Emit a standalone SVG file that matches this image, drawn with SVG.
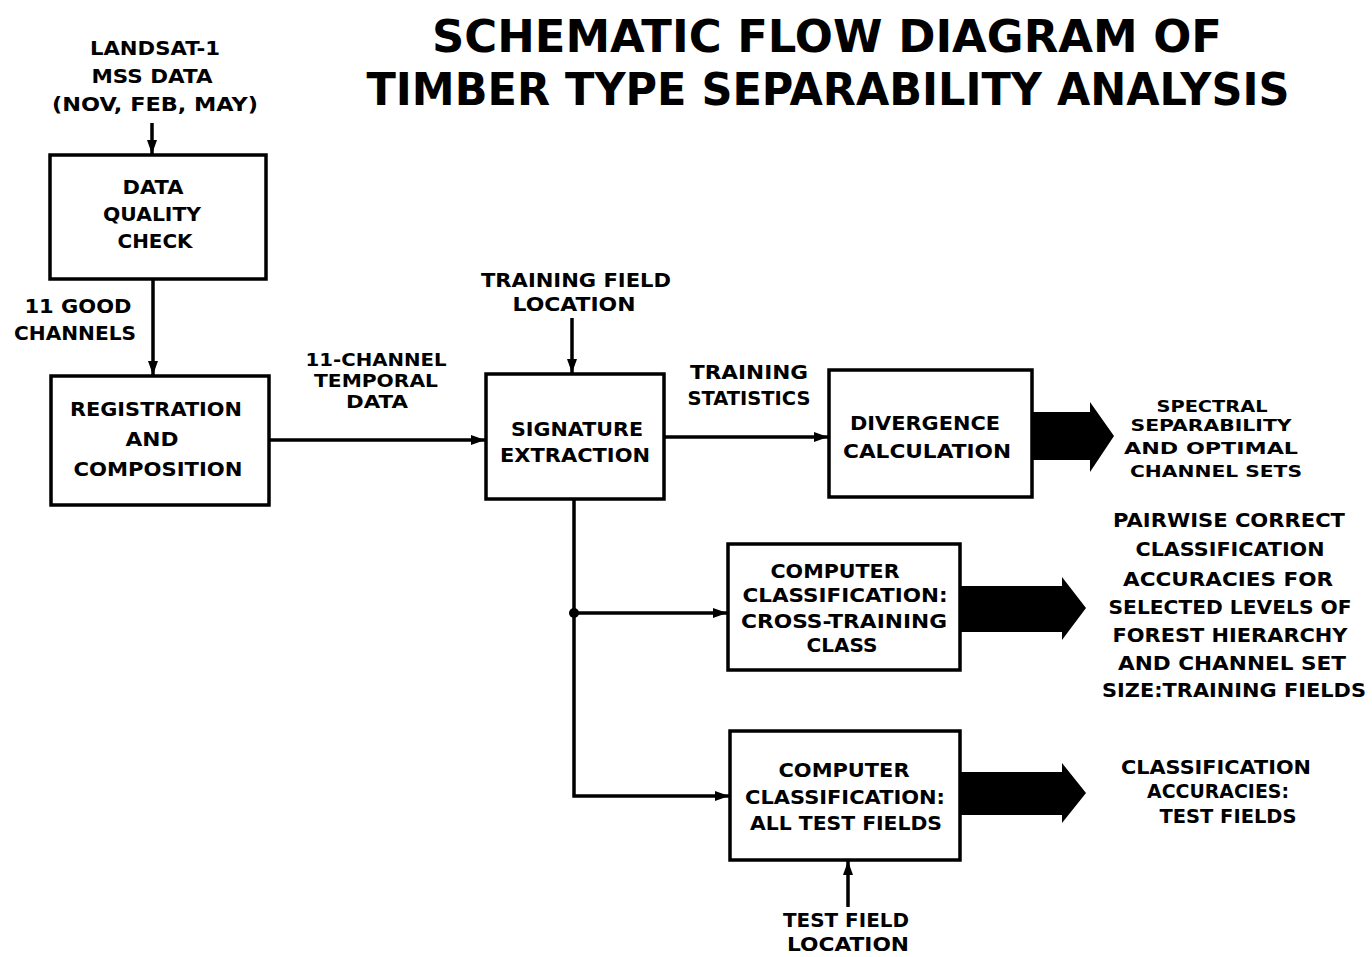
<svg xmlns="http://www.w3.org/2000/svg" width="1372" height="957" viewBox="0 0 1372 957">
<style>
.box{fill:#fff;stroke:#000;stroke-width:3.5}
.ln{fill:none;stroke:#000;stroke-width:3.5}
.blk{fill:#000;stroke:none}
text{font-family:"DejaVu Sans","Liberation Sans",sans-serif;font-weight:bold;font-size:20px;text-anchor:middle;fill:#000}
.t{font-size:44px}
.s{font-size:17px}
.xs{font-size:16px}
</style>
<defs>
<marker id="ah" viewBox="0 0 14 10" refX="14" refY="5" markerWidth="14" markerHeight="10" markerUnits="userSpaceOnUse" orient="auto">
<path d="M0,0 L14,5 L0,10 z" fill="#000"/>
</marker>
</defs>
<rect width="1372" height="957" fill="#fff"/>
<g id="title">
<text class="t" x="827" y="52" textLength="790" lengthAdjust="spacingAndGlyphs">SCHEMATIC FLOW DIAGRAM OF</text>
<text class="t" x="828" y="105" textLength="923" lengthAdjust="spacingAndGlyphs">TIMBER TYPE SEPARABILITY ANALYSIS</text>
</g>
<g id="connectors">
<line class="ln" x1="152" y1="123" x2="152" y2="154" marker-end="url(#ah)"/>
<line class="ln" x1="153" y1="279" x2="153" y2="375" marker-end="url(#ah)"/>
<line class="ln" x1="269" y1="440" x2="485" y2="440" marker-end="url(#ah)"/>
<line class="ln" x1="572" y1="318" x2="572" y2="373" marker-end="url(#ah)"/>
<line class="ln" x1="664" y1="437" x2="828" y2="437" marker-end="url(#ah)"/>
<polyline class="ln" points="574,499 574,796 729,796" marker-end="url(#ah)"/>
<line class="ln" x1="574" y1="613" x2="727" y2="613" marker-end="url(#ah)"/>
<circle cx="574" cy="613" r="5" fill="#000"/>
<line class="ln" x1="848" y1="907" x2="848" y2="861" marker-end="url(#ah)"/>
<polygon class="blk" points="1032,412 1090,412 1090,402 1114,436 1090,472 1090,460 1032,460"/>
<polygon class="blk" points="960,586 1062,586 1062,577 1086,608 1062,640 1062,632 960,632"/>
<polygon class="blk" points="960,772 1062,772 1062,763 1086,793 1062,823 1062,815 960,815"/>
</g>
<g id="input-landsat">
<text x="155" y="55" textLength="130" lengthAdjust="spacingAndGlyphs">LANDSAT-1</text>
<text x="152" y="83" textLength="121" lengthAdjust="spacingAndGlyphs">MSS DATA</text>
<text x="155" y="111" textLength="206" lengthAdjust="spacingAndGlyphs">(NOV, FEB, MAY)</text>
</g>
<g id="data-quality-check">
<rect class="box" x="50" y="155" width="216" height="124"/>
<text x="153" y="194" textLength="61" lengthAdjust="spacingAndGlyphs">DATA</text>
<text x="152" y="221" textLength="98" lengthAdjust="spacingAndGlyphs">QUALITY</text>
<text x="155" y="248" textLength="75" lengthAdjust="spacingAndGlyphs">CHECK</text>
</g>
<g id="label-good-channels">
<text x="78" y="313" textLength="107" lengthAdjust="spacingAndGlyphs">11 GOOD</text>
<text x="75" y="340" textLength="122" lengthAdjust="spacingAndGlyphs">CHANNELS</text>
</g>
<g id="registration-composition">
<rect class="box" x="51" y="376" width="218" height="129"/>
<text x="156" y="416" textLength="172" lengthAdjust="spacingAndGlyphs">REGISTRATION</text>
<text x="152" y="446" textLength="53" lengthAdjust="spacingAndGlyphs">AND</text>
<text x="158" y="476" textLength="169" lengthAdjust="spacingAndGlyphs">COMPOSITION</text>
</g>
<g id="label-temporal">
<text class="s" x="376" y="366" textLength="141" lengthAdjust="spacingAndGlyphs">11-CHANNEL</text>
<text class="s" x="376" y="387" textLength="124" lengthAdjust="spacingAndGlyphs">TEMPORAL</text>
<text class="s" x="377" y="408" textLength="62" lengthAdjust="spacingAndGlyphs">DATA</text>
</g>
<g id="input-training-field">
<text x="576" y="287" textLength="190" lengthAdjust="spacingAndGlyphs">TRAINING FIELD</text>
<text x="574" y="311" textLength="123" lengthAdjust="spacingAndGlyphs">LOCATION</text>
</g>
<g id="signature-extraction">
<rect class="box" x="486" y="374" width="178" height="125"/>
<text x="577" y="436" textLength="132" lengthAdjust="spacingAndGlyphs">SIGNATURE</text>
<text x="575" y="462" textLength="150" lengthAdjust="spacingAndGlyphs">EXTRACTION</text>
</g>
<g id="label-training-statistics">
<text x="749" y="379" textLength="118" lengthAdjust="spacingAndGlyphs">TRAINING</text>
<text x="749" y="405" textLength="123" lengthAdjust="spacingAndGlyphs">STATISTICS</text>
</g>
<g id="divergence-calculation">
<rect class="box" x="829" y="370" width="203" height="127"/>
<text x="925" y="430" textLength="150" lengthAdjust="spacingAndGlyphs">DIVERGENCE</text>
<text x="927" y="458" textLength="168" lengthAdjust="spacingAndGlyphs">CALCULATION</text>
</g>
<g id="output-spectral">
<text class="xs" x="1212" y="412" textLength="111" lengthAdjust="spacingAndGlyphs">SPECTRAL</text>
<text class="xs" x="1211" y="431" textLength="161" lengthAdjust="spacingAndGlyphs">SEPARABILITY</text>
<text class="xs" x="1211" y="454" textLength="174" lengthAdjust="spacingAndGlyphs">AND OPTIMAL</text>
<text class="xs" x="1216" y="477" textLength="172" lengthAdjust="spacingAndGlyphs">CHANNEL SETS</text>
</g>
<g id="classification-cross-training">
<rect class="box" x="728" y="544" width="232" height="126"/>
<text x="835" y="578" textLength="129" lengthAdjust="spacingAndGlyphs">COMPUTER</text>
<text x="845" y="602" textLength="205" lengthAdjust="spacingAndGlyphs">CLASSIFICATION:</text>
<text x="844" y="628" textLength="206" lengthAdjust="spacingAndGlyphs">CROSS-TRAINING</text>
<text x="842" y="652" textLength="71" lengthAdjust="spacingAndGlyphs">CLASS</text>
</g>
<g id="output-pairwise">
<text x="1229" y="527" textLength="232" lengthAdjust="spacingAndGlyphs">PAIRWISE CORRECT</text>
<text x="1230" y="556" textLength="189" lengthAdjust="spacingAndGlyphs">CLASSIFICATION</text>
<text x="1228" y="586" textLength="210" lengthAdjust="spacingAndGlyphs">ACCURACIES FOR</text>
<text x="1230" y="614" textLength="243" lengthAdjust="spacingAndGlyphs">SELECTED LEVELS OF</text>
<text x="1230" y="642" textLength="235" lengthAdjust="spacingAndGlyphs">FOREST HIERARCHY</text>
<text x="1232" y="670" textLength="228" lengthAdjust="spacingAndGlyphs">AND CHANNEL SET</text>
<text x="1234" y="697" textLength="264" lengthAdjust="spacingAndGlyphs">SIZE:TRAINING FIELDS</text>
</g>
<g id="classification-test-fields">
<rect class="box" x="730" y="731" width="230" height="129"/>
<text x="844" y="777" textLength="131" lengthAdjust="spacingAndGlyphs">COMPUTER</text>
<text x="845" y="804" textLength="200" lengthAdjust="spacingAndGlyphs">CLASSIFICATION:</text>
<text x="846" y="830" textLength="192" lengthAdjust="spacingAndGlyphs">ALL TEST FIELDS</text>
</g>
<g id="output-test-accuracies">
<text x="1216" y="774" textLength="190" lengthAdjust="spacingAndGlyphs">CLASSIFICATION</text>
<text x="1218" y="798" textLength="142" lengthAdjust="spacingAndGlyphs">ACCURACIES:</text>
<text x="1228" y="823" textLength="137" lengthAdjust="spacingAndGlyphs">TEST FIELDS</text>
</g>
<g id="input-test-field">
<text x="846" y="927" textLength="126" lengthAdjust="spacingAndGlyphs">TEST FIELD</text>
<text x="848" y="951" textLength="122" lengthAdjust="spacingAndGlyphs">LOCATION</text>
</g>
</svg>
